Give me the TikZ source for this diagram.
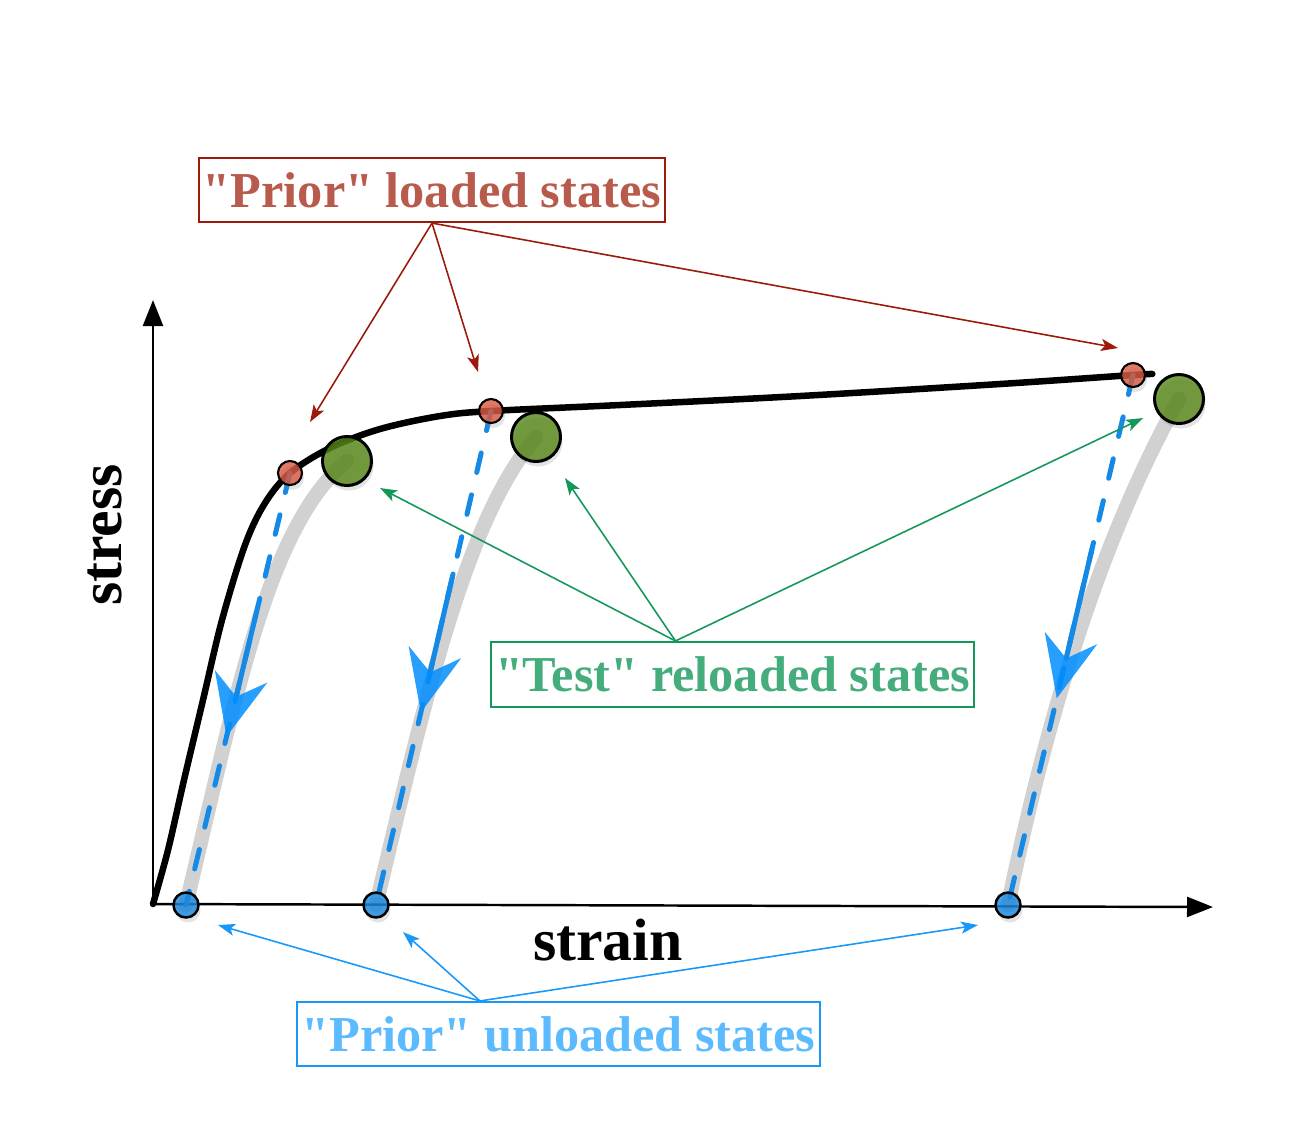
\documentclass[tikz,border=0pt]{standalone}
\usepackage{fontspec}
\setmainfont{Liberation Serif}[Ligatures=TeXOff]
\usetikzlibrary{arrows.meta,shadows}
\definecolor{priorred}{HTML}{9B1A0A}
\definecolor{priorredtext}{HTML}{B85A4C}
\definecolor{testgreen}{HTML}{14985A}
\definecolor{testgreentext}{HTML}{45AD7C}
\definecolor{unloadblue}{HTML}{1A98F8}
\definecolor{unloadbluetext}{HTML}{5CBBFF}
\definecolor{dashblue}{HTML}{1589E6}
\definecolor{headblue}{HTML}{008EFF}
\definecolor{redfill}{HTML}{D85940}
\definecolor{greenfill}{HTML}{548613}
\definecolor{bluefill}{HTML}{1888E0}
\begin{document}
\begin{tikzpicture}[
		x=0.01cm, y=-0.01cm,
		tagbox/.style={rectangle, draw, line width=0.6pt, inner sep=0pt, minimum height=0.64cm, text centered, font=\bfseries\fontsize{14.3}{17}\selectfont},
		axislabel/.style={font=\bfseries\fontsize{17}{20}\selectfont},
		axis/.style={line width=0.7pt, -{Triangle[length=0.26cm, width=0.2cm]}},
		yieldcurve/.style={line width=0.065cm, line cap=round, line join=round},
		unloadpath/.style={line width=0.145cm, line cap=round, black, opacity=0.18},
		reloadline/.style={dashblue, line width=0.05cm, line cap=round, dash pattern=on 0.2cm off 0.23cm},
		reloadarrow/.style={dashblue, line width=0.05cm, line cap=round, fill opacity=0.85, -{Stealth[length=0.62cm, width=0.54cm, inset=0.21cm, line width=0pt, color=headblue]}},
		dot/.style={circle, draw=black, fill opacity=0.8, inner sep=0pt, drop shadow={opacity=0.22, shadow xshift=0.02cm, shadow yshift=-0.05cm}},
		loadedstate/.style={dot, fill=redfill, line width=0.6pt, minimum size=0.24cm},
		reloadedstate/.style={dot, fill=greenfill, line width=0.85pt, minimum size=0.49cm},
		unloadedstate/.style={dot, fill=bluefill, line width=0.7pt, minimum size=0.25cm},
		tiparrow/.style={line width=0.45pt, -{Stealth[length=0.17cm, width=0.12cm, inset=0.04cm]}}
	]
	\useasboundingbox (0,0) rectangle (1307,1147);

	% Assi
	\coordinate (origin) at (153,904);
	\draw[axis] (origin) -- (153,300);
	\draw[axis] (origin) -- (1213,907);
	\node[axislabel, rotate=90] (stresslabel) at (105,535) {stress};
	\node[axislabel] (strainlabel) at (608,940) {strain};

	% Curva di carico
	\draw[yieldcurve] plot[smooth, tension=0.55] coordinates {(153,904) (168,850) (184,780) (203,700) (222,620) (245,545) (265,503) (290,473) (330,448) (380,429) (440,416) (491,411) (620,405) (800,396) (1000,384) (1133,375) (1152,374)};

	% Coordinate degli stati
	\coordinate (l1) at (290,473);
	\coordinate (l2) at (491,411);
	\coordinate (l3) at (1133,375);
	\coordinate (g1) at (347,461);
	\coordinate (g2) at (536,437);
	\coordinate (g3) at (1179,399);
	\coordinate (u1) at (186,905);
	\coordinate (u2) at (376,905);
	\coordinate (u3) at (1008,905);

	% Ricarico (grigio)
	\draw[unloadpath] (u1) .. controls (235,700) and (268,525) .. (g1);
	\draw[unloadpath] (u2) .. controls (425,700) and (465,520) .. (g2);
	\draw[unloadpath] (u3) .. controls (1046,720) and (1100,540) .. (g3);

	% Scarico (tratteggiato)
	\foreach \i in {1,2,3} {
		\draw[reloadline] (l\i) -- (u\i);
		\path (l\i) -- (u\i) coordinate[pos=0.33] (s\i) coordinate[pos=0.61] (t\i);
		\draw[reloadarrow] (s\i) -- (t\i);
	}

	% Stati
	\foreach \i in {1,2,3} {
		\node[loadedstate] (loaded\i) at (l\i) {};
		\node[reloadedstate] (reloaded\i) at (g\i) {};
		\node[unloadedstate] (unloaded\i) at (u\i) {};
	}

	% Etichette
	\node[tagbox, draw=priorred, text=priorredtext, minimum width=4.66cm] (priorload) at (432,190) {"Prior" loaded states};
	\node[tagbox, draw=testgreen, text=testgreentext, minimum width=4.83cm, minimum height=0.65cm] (testreload) at (732.5,674.5) {"Test" reloaded states};
	\node[tagbox, draw=unloadblue, text=unloadbluetext, minimum width=5.23cm] (priorunload) at (558.5,1034) {"Prior" unloaded states};

	% Punte delle frecce
	\coordinate (plA) at (310,422);
	\coordinate (plB) at (478,372);
	\coordinate (plC) at (1118,348);
	\coordinate (trA) at (380,488);
	\coordinate (trB) at (565,478);
	\coordinate (trC) at (1143,418);
	\coordinate (puA) at (218,925);
	\coordinate (puB) at (403,932);
	\coordinate (puC) at (978,925);

	% Frecce
	\foreach \t in {plA,plB,plC}
		\draw[tiparrow, priorred] (priorload.south) -- (\t);
	\foreach \t in {trA,trB,trC}
		\draw[tiparrow, testgreen] ([xshift=-0.57cm]testreload.north) -- (\t);
	\foreach \t in {puA,puB,puC}
		\draw[tiparrow, unloadblue] ([xshift=-0.785cm]priorunload.north) -- (\t);
\end{tikzpicture}
\end{document}
